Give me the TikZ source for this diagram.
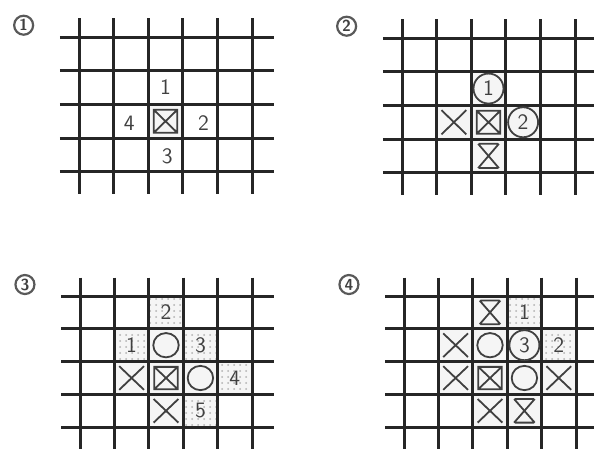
\documentclass[tikz,border=0pt]{standalone}
\usetikzlibrary{patterns}

\tikzset{
  gridline/.style={line width=1.5pt, black!85},
  markline/.style={line width=0.9pt, black!75},
  lightcell/.style={fill=gray!8},
  dotcell/.style={fill=gray!8, postaction={pattern=dots, pattern color=gray!60}},
  numtxt/.style={font=\fontsize{11}{11}\selectfont\sffamily, text=black!75, inner sep=0pt},
  circnum/.style={numtxt, draw=black!75, circle, line width=0.9pt, minimum size=15pt},
  panellabel/.style={draw=black!65, circle, line width=1.1pt, text=black!75, inner sep=0.5pt,
                     minimum size=9.5pt, font=\sffamily\bfseries\footnotesize}
}

% one board: 6 vertical and 5 horizontal lines, in cell units
\newcommand{\boardlines}{%
  \foreach \i in {0,...,5} \draw[gridline] (\i,-0.56) -- (\i,4.65);
  \foreach \j in {0,...,4} \draw[gridline] (-0.55,\j) -- (5.65,\j);
}
\newcommand{\cellFill}[3]{\path[#3] (#1,#2) rectangle ({#1+1},{#2+1});}
\newcommand{\cellX}[2]{\draw[markline] ({#1+0.14},{#2+0.14}) -- ({#1+0.86},{#2+0.86})
  ({#1+0.86},{#2+0.14}) -- ({#1+0.14},{#2+0.86});}
\newcommand{\cellHour}[2]{\draw[markline] ({#1+0.2},{#2+0.14}) -- ({#1+0.8},{#2+0.86})
  ({#1+0.8},{#2+0.14}) -- ({#1+0.2},{#2+0.86})
  ({#1+0.22},{#2+0.14}) -- ({#1+0.78},{#2+0.14})
  ({#1+0.22},{#2+0.86}) -- ({#1+0.78},{#2+0.86});}
\newcommand{\cellBox}[2]{\draw[markline] ({#1+0.16},{#2+0.16}) rectangle ({#1+0.84},{#2+0.84})
  ({#1+0.16},{#2+0.16}) -- ({#1+0.84},{#2+0.84})
  ({#1+0.84},{#2+0.16}) -- ({#1+0.16},{#2+0.84});}
\newcommand{\cellO}[2]{\draw[markline] ({#1+0.5},{#2+0.5}) circle[radius=0.37];}

\begin{document}
\begin{tikzpicture}[x=0.5pt, y=-0.5pt]
\useasboundingbox (0,0) rectangle (594,455);

% board 1
\begin{scope}[shift={(79,37)}, x=17.3pt, y=-16.85pt]
  \cellFill{2}{2}{lightcell}
  \boardlines
  \node[panellabel] (lab1) at (-1.6,-0.35) {1};
  \cellBox{2}{2}
  \node[numtxt] (a1) at (2.5,1.5) {1};
  \node[numtxt] (a2) at (3.6,2.55) {2};
  \node[numtxt] (a3) at (2.55,3.55) {3};
  \node[numtxt] (a4) at (1.45,2.55) {4};
\end{scope}

% board 2
\begin{scope}[shift={(402,38)}, x=17.3pt, y=-16.85pt]
  \foreach \c/\r in {2/1, 1/2, 2/2, 3/2, 2/3} {\cellFill{\c}{\r}{lightcell}}
  \boardlines
  \node[panellabel] (lab2) at (-1.6,-0.35) {2};
  \cellX{1}{2}
  \cellBox{2}{2}
  \cellHour{2}{3}
  \node[circnum] (b1) at (2.5,1.5) {1};
  \node[circnum] (b2) at (3.5,2.5) {2};
\end{scope}

% board 3
\begin{scope}[shift={(80,296)}, x=17.2pt, y=-16.4pt]
  \foreach \c/\r in {2/1, 1/2, 2/2, 3/2, 2/3} {\cellFill{\c}{\r}{lightcell}}
  \foreach \c/\r in {2/0, 1/1, 3/1, 4/2, 3/3} {\cellFill{\c}{\r}{dotcell}}
  \boardlines
  \node[panellabel] (lab3) at (-1.6,-0.35) {3};
  \cellO{2}{1}
  \cellX{1}{2}
  \cellBox{2}{2}
  \cellO{3}{2}
  \cellX{2}{3}
  \node[numtxt] (c1) at (1.5,1.5) {1};
  \node[numtxt] (c2) at (2.5,0.5) {2};
  \node[numtxt] (c3) at (3.5,1.5) {3};
  \node[numtxt] (c4) at (4.5,2.5) {4};
  \node[numtxt] (c5) at (3.5,3.5) {5};
\end{scope}

% board 4
\begin{scope}[shift={(404,296)}, x=17.2pt, y=-16.4pt]
  \foreach \c/\r in {2/0, 1/1, 2/1, 3/1, 1/2, 2/2, 3/2, 4/2, 2/3, 3/3} {\cellFill{\c}{\r}{lightcell}}
  \foreach \c/\r in {3/0, 4/1} {\cellFill{\c}{\r}{dotcell}}
  \boardlines
  \node[panellabel] (lab4) at (-1.6,-0.35) {4};
  \cellHour{2}{0}
  \cellX{1}{1}
  \cellO{2}{1}
  \cellX{1}{2}
  \cellBox{2}{2}
  \cellO{3}{2}
  \cellX{4}{2}
  \cellX{2}{3}
  \cellHour{3}{3}
  \node[numtxt] (d1) at (3.5,0.5) {1};
  \node[circnum] (d3) at (3.5,1.5) {3};
  \node[numtxt] (d2) at (4.5,1.5) {2};
\end{scope}
\end{tikzpicture}
\end{document}
